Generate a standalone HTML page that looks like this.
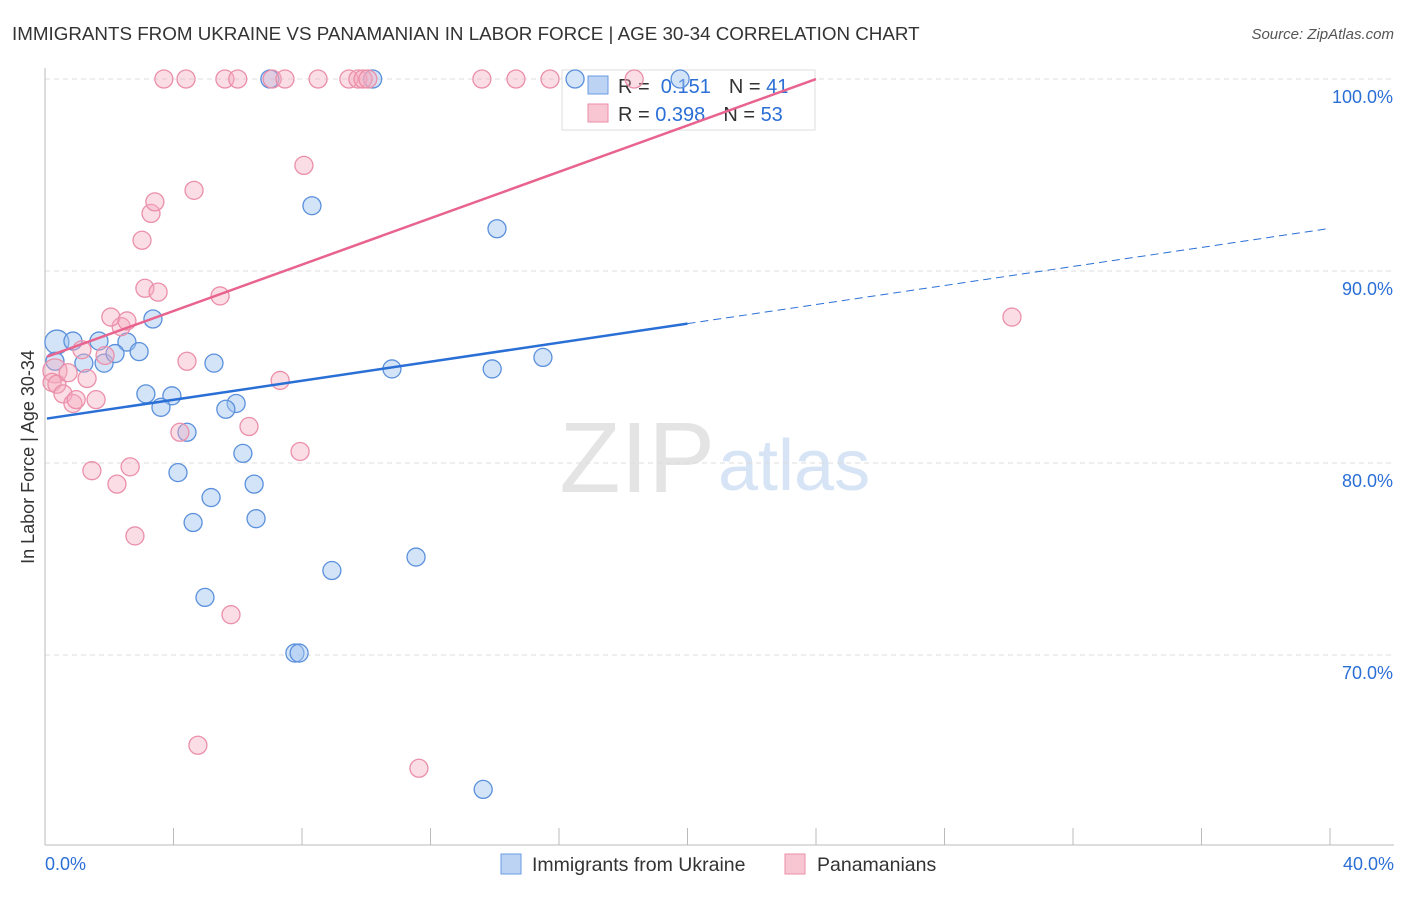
<!DOCTYPE html>
<html><head><meta charset="utf-8"><style>
body{margin:0;background:#fff;font-family:"Liberation Sans",sans-serif}
svg text{font-family:"Liberation Sans",sans-serif}
</style></head><body>
<svg id="c" width="1406" height="892" xmlns="http://www.w3.org/2000/svg">
<text x="12" y="40" font-size="18.8" fill="#333">IMMIGRANTS FROM UKRAINE VS PANAMANIAN IN LABOR FORCE | AGE 30-34 CORRELATION CHART</text>
<text x="1394" y="39" font-size="15" fill="#555" font-style="italic" text-anchor="end">Source: ZipAtlas.com</text>
<text x="715" y="492" font-size="100" fill="#e4e4e4" text-anchor="end" font-family="Liberation Serif">ZIP</text>
<text x="718" y="490" font-size="72" fill="#d6e4f5">atlas</text>
<text transform="translate(34,457) rotate(-90)" font-size="18" fill="#333" text-anchor="middle">In Labor Force | Age 30-34</text>
<g id="grid"></g>
<g>
<rect x="562" y="70" width="253" height="60" fill="#fff" stroke="#ddd"/>
<rect x="588" y="76" width="20" height="18" fill="#bcd3f3" stroke="#6a9be0"/>
<rect x="588" y="104" width="20" height="18" fill="#f8c5d3" stroke="#ea8ea9"/>
<text x="618" y="93" font-size="20" fill="#333">R = <tspan fill="#2b6fd6">&#160;0.151</tspan><tspan dx="18">N = </tspan><tspan fill="#2b6fd6">41</tspan></text>
<text x="618" y="121" font-size="20" fill="#333">R = <tspan fill="#2b6fd6">0.398</tspan><tspan dx="18">N = </tspan><tspan fill="#2b6fd6">53</tspan></text>
</g>
<g id="marks"></g>
<g>
<rect x="501" y="854" width="20" height="20" fill="#bcd3f3" stroke="#6a9be0"/>
<text x="532" y="871" font-size="19.5" fill="#333">Immigrants from Ukraine</text>
<rect x="785" y="854" width="20" height="20" fill="#f8c5d3" stroke="#ea8ea9"/>
<text x="817" y="871" font-size="19.5" fill="#333">Panamanians</text>
</g>
</svg>
<script>
const xTicks=[0,4,8,12,16,20,24,28,32,36,40];
const yTicks=[70,80,90,100];
const blueX=[0.37,0.87,1.68,2.55,1.21,1.84,2.18,2.93,3.36,0.31,3.14,3.95,3.61,4.42,5.95,5.63,5.26,4.14,6.16,6.51,5.17,4.61,6.57,4.98,7.78,7.91,8.93,11.55,8.31,14.07,10.8,13.92,15.5,13.64,7.0,10.2,16.5,19.77];
const blueY=[86.3,86.35,86.35,86.3,85.2,85.2,85.7,85.8,87.5,85.3,83.6,83.5,82.9,81.6,83.1,82.8,85.2,79.5,80.5,78.9,78.2,76.9,77.1,73.0,70.1,70.1,74.4,75.1,93.4,92.2,84.9,84.9,85.5,63.0,100,100,100,100];
const pinkX=[0.31,0.22,0.37,0.56,0.87,0.97,1.59,1.31,0.72,1.15,1.87,2.37,2.05,2.55,3.11,3.52,3.02,3.3,3.42,4.64,5.45,4.42,7.32,6.35,4.2,7.94,1.46,2.65,2.24,2.8,5.79,4.76,11.64,8.06,30.1,3.7,4.39,5.6,6.0,7.07,7.47,8.5,9.46,9.74,9.9,10.05,13.6,14.66,15.72,18.34];
const pinkY=[84.8,84.2,84.1,83.6,83.1,83.3,83.3,84.4,84.7,85.9,85.6,87.1,87.6,87.4,89.1,88.9,91.6,93.0,93.6,94.2,88.7,85.3,84.3,81.9,81.6,80.6,79.6,79.8,78.9,76.2,72.1,65.3,64.1,95.5,87.6,100,100,100,100,100,100,100,100,100,100,100,100,100,100,100];
const blueTrend=[82.3,0.248];
const pinkTrend=[85.5,0.604];
const NS="http://www.w3.org/2000/svg";
const X=v=>45+v/40*1285, Y=v=>79+(100-v)*19.2;
function mk(t,a,p){const e=document.createElementNS(NS,t);for(const k in a)e.setAttribute(k,a[k]);p.appendChild(e);return e;}
const g=document.getElementById('grid'),m=document.getElementById('marks');
yTicks.forEach(t=>{const l=mk('line',{x1:45,x2:1394,y1:Y(t),y2:Y(t),stroke:'#ddd','stroke-dasharray':'5,4'},g);


const tx=mk('text',{x:1393,y:Y(t)+24,'font-size':18,fill:'#2b6fd6','text-anchor':'end'},g);tx.textContent=t.toFixed(1)+'%';

});
mk('line',{x1:45,x2:45,y1:68,y2:845,stroke:'#bbb'},g);
mk('line',{x1:45,x2:1394,y1:845,y2:845,stroke:'#bbb'},g);
xTicks.forEach(t=>{const l=mk('line',{x1:X(t),x2:X(t),y1:828,y2:845,stroke:'#bbb'},g);

});
[[0,'start',45],[40,'end',1394]].forEach(([t,a,x])=>{const tx=mk('text',{x:x,y:870,'font-size':18,fill:'#2b6fd6','text-anchor':a},g);tx.textContent=t.toFixed(1)+'%';

});
blueX.forEach((v,i)=>{const c=mk('circle',{cx:X(v),cy:Y(blueY[i]),r:(i<1?12:9),fill:'rgba(160,195,240,0.45)',stroke:'#5a90dc','stroke-width':1.3},m);

});
pinkX.forEach((v,i)=>{const c=mk('circle',{cx:X(v),cy:Y(pinkY[i]),r:(i<1?12:9),fill:'rgba(245,170,190,0.4)',stroke:'#eb8faa','stroke-width':1.3},m);

});
const bl=mk('line',{x1:X(0.06),y1:Y(blueTrend[0]+blueTrend[1]*0.06),x2:X(20),y2:Y(blueTrend[0]+blueTrend[1]*20),stroke:'#2a6fd6','stroke-width':2.5},m);


const bd=mk('line',{x1:X(20),y1:Y(blueTrend[0]+blueTrend[1]*20),x2:X(40),y2:Y(blueTrend[0]+blueTrend[1]*40),stroke:'#2a6fd6','stroke-width':1,'stroke-dasharray':'8,5'},m);


const pl=mk('line',{x1:X(0.06),y1:Y(pinkTrend[0]+pinkTrend[1]*0.06),x2:X(24),y2:Y(pinkTrend[0]+pinkTrend[1]*24),stroke:'#e8648e','stroke-width':2.5},m);


</script>
</body></html>
